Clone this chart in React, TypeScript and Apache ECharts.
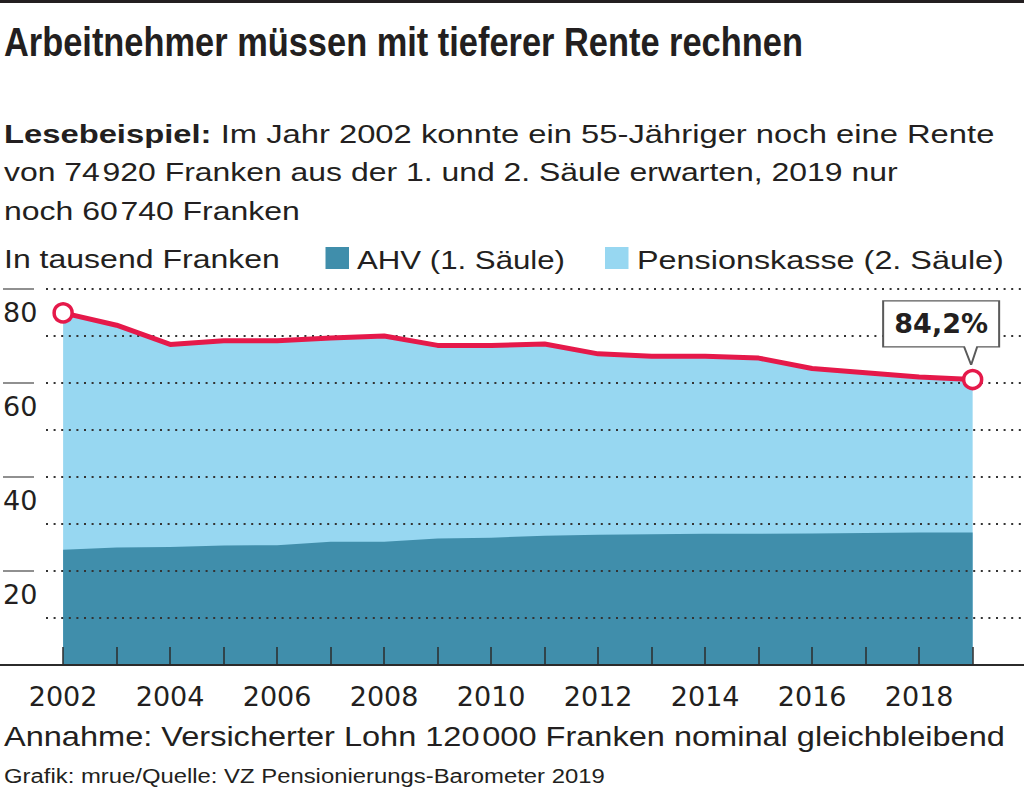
import React, { useEffect, useRef } from "react";
import * as echarts from "echarts";

// ---- data ----
const years = [2002, 2003, 2004, 2005, 2006, 2007, 2008, 2009, 2010, 2011, 2012, 2013, 2014, 2015, 2016, 2017, 2018, 2019];
const totalRente = [74.92, 72.3, 68.2, 69.0, 69.0, 69.6, 70.0, 68.0, 68.0, 68.3, 66.2, 65.7, 65.7, 65.3, 63.1, 62.2, 61.3, 60.74];
const ahvRente = [24.5, 25.0, 25.1, 25.4, 25.5, 26.2, 26.2, 26.9, 27.1, 27.5, 27.7, 27.8, 27.9, 27.9, 28.0, 28.1, 28.2, 28.2];
const labelYears = [2002, 2004, 2006, 2008, 2010, 2012, 2014, 2016, 2018];
const yLabelValues = [20, 40, 60, 80];
const endShare = "84,2%";

const titleText = "Arbeitnehmer müssen mit tieferer Rente rechnen";
const leadBold = "Lesebeispiel:";
const leadLines = [
  " Im Jahr 2002 konnte ein 55-Jähriger noch eine Rente",
  "von 74\u200A920 Franken aus der 1. und 2. Säule erwarten, 2019 nur",
  "noch 60\u200A740 Franken",
];
const unitText = "In tausend Franken";
const seriesNames = ["AHV (1. Säule)", "Pensionskasse (2. Säule)"];
const noteText = "Annahme: Versicherter Lohn 120\u200A000 Franken nominal gleichbleibend";
const sourceText = "Grafik: mrue/Quelle: VZ Pensionierungs-Barometer 2019";

// ---- styles ----
const SANS = '"Liberation Sans", Arial, Helvetica, sans-serif';
const NARROW = '"Liberation Sans Narrow", "Arial Narrow", "Liberation Sans", sans-serif';
const AXISFONT = '"DejaVu Sans", sans-serif';
const INK = "#231f20";
const DARK = "#408eab";
const LIGHT = "#97d7f1";
const RED = "#e5194a";

let measureCtx: CanvasRenderingContext2D | null = null;
function textWidth(text: string, font: string): number {
  if (!measureCtx) measureCtx = document.createElement("canvas").getContext("2d");
  if (!measureCtx) return text.length * 10;
  measureCtx.font = font;
  return measureCtx.measureText(text).width;
}

function fitText(
  text: string,
  left: number,
  right: number,
  y: number,
  size: number,
  weight: string,
  family: string,
  extra?: any
) {
  const w = textWidth(text, `${weight} ${size}px ${family}`);
  return {
    type: "text",
    x: left,
    y,
    scaleX: (right - left) / w,
    silent: true,
    style: {
      text,
      x: 0,
      y: 0,
      fontSize: size,
      fontWeight: weight,
      fontFamily: family,
      fill: INK,
      align: "left",
      verticalAlign: "middle",
      ...(extra || {}),
    },
  };
}

function leadLine1() {
  const size = 26;
  const wb = textWidth(leadBold, `bold ${size}px ${SANS}`);
  const wr = textWidth(leadLines[0], `normal ${size}px ${SANS}`);
  return {
    type: "text",
    x: 4,
    y: 133.4,
    scaleX: (995 - 4) / (wb + wr),
    silent: true,
    style: {
      text: `{b|${leadBold}}{r|${leadLines[0]}}`,
      x: 0,
      y: 0,
      fontSize: size,
      fontFamily: SANS,
      fill: INK,
      align: "left",
      verticalAlign: "middle",
      rich: {
        b: { fontWeight: "bold", fontSize: size, fontFamily: SANS, fill: INK },
        r: { fontWeight: "normal", fontSize: size, fontFamily: SANS, fill: INK },
      },
    },
  };
}

export default function App() {
  const ref = useRef<HTMLDivElement>(null);

  useEffect(() => {
    if (!ref.current) return;
    const chart = echarts.init(ref.current, undefined, { renderer: "svg" });
    const last = years.length - 1;

    const graphic: any[] = [
      { type: "rect", silent: true, shape: { x: 0, y: 0, width: 1024, height: 3 }, style: { fill: INK } },
      fitText(titleText, 4, 803, 42.5, 40, "bold", NARROW),
      leadLine1(),
      fitText(leadLines[1], 4, 898, 172.5, 26, "normal", SANS),
      fitText(leadLines[2], 4, 300, 211, 26, "normal", SANS),
      fitText(unitText, 4, 280, 259.5, 26, "normal", SANS),
      { type: "rect", silent: true, shape: { x: 325.5, y: 247, width: 23.5, height: 22 }, style: { fill: DARK } },
      fitText(seriesNames[0], 357, 565, 259.5, 26, "normal", SANS),
      { type: "rect", silent: true, shape: { x: 605, y: 247, width: 23.5, height: 22 }, style: { fill: LIGHT } },
      fitText(seriesNames[1], 637, 1004, 259.5, 26, "normal", SANS),
      fitText(noteText, 4, 1005, 736.7, 28, "normal", SANS),
      fitText(sourceText, 4, 605, 776, 21, "normal", SANS),
    ];

    const option: any = {
      animation: false,
      graphic,
      grid: [
        { left: 46, right: 0, top: 289, bottom: 130 },
        { left: 0, width: 34, top: 289, bottom: 130 },
        { left: 0, width: 47, top: 289, bottom: 130 },
      ],
      xAxis: [
        {
          type: "value",
          gridIndex: 0,
          min: 2001.68,
          max: 2019.96,
          z: 4,
          axisLine: { show: true, lineStyle: { color: "#2b2b2b", width: 2 } },
          axisTick: { show: true, inside: true, length: 18, customValues: years, lineStyle: { color: "#2b2b2b", width: 1.5 } },
          axisLabel: {
            customValues: labelYears,
            formatter: (v: number) => String(v),
            fontFamily: AXISFONT,
            fontSize: 27,
            color: INK,
            margin: 18,
          },
          splitLine: { show: false },
        },
        { type: "value", gridIndex: 1, show: false, min: 0, max: 1 },
        {
          type: "value",
          gridIndex: 2,
          min: 0,
          max: 1,
          axisLine: { show: true, lineStyle: { color: "#2b2b2b", width: 2 } },
          axisTick: { show: false },
          axisLabel: { show: false },
          splitLine: { show: false },
        },
      ],
      yAxis: [
        {
          type: "value",
          gridIndex: 0,
          min: 0,
          max: 80,
          interval: 10,
          z: 3,
          axisLine: { show: false },
          axisTick: { show: false },
          axisLabel: { show: false },
          splitLine: { show: true, lineStyle: { color: "#333333", width: 2, type: [2, 5.6] } },
        },
        {
          type: "value",
          gridIndex: 1,
          min: 0,
          max: 80,
          interval: 20,
          axisLine: { show: false },
          axisTick: { show: false },
          axisLabel: {
            inside: true,
            margin: 0,
            customValues: yLabelValues,
            formatter: (v: number) => String(v),
            fontFamily: AXISFONT,
            fontSize: 27,
            color: INK,
            verticalAlign: "top",
            lineHeight: 27,
            padding: [10, 0, 0, 0],
          },
          splitLine: { show: true, lineStyle: { color: "#6b6b6b", width: 1.5 } },
        },
        { type: "value", gridIndex: 2, show: false, min: 0, max: 80 },
      ],
      series: [
        {
          name: seriesNames[1],
          type: "line",
          xAxisIndex: 0,
          yAxisIndex: 0,
          data: years.map((y, i) => [y, totalRente[i]]),
          symbol: "none",
          lineStyle: { width: 0 },
          areaStyle: { color: LIGHT, opacity: 1 },
          z: 1,
          silent: true,
        },
        {
          name: seriesNames[0],
          type: "line",
          xAxisIndex: 0,
          yAxisIndex: 0,
          data: years.map((y, i) => [y, ahvRente[i]]),
          symbol: "none",
          lineStyle: { width: 0 },
          areaStyle: { color: DARK, opacity: 1 },
          z: 1,
          silent: true,
        },
        {
          name: "Total",
          type: "line",
          xAxisIndex: 0,
          yAxisIndex: 0,
          data: years.map((y, i) => ({
            value: [y, totalRente[i]],
            symbol: i === 0 || i === last ? "circle" : "none",
          })),
          symbolSize: 18,
          showAllSymbol: true,
          lineStyle: { color: RED, width: 5 },
          itemStyle: { color: "#ffffff", borderColor: RED, borderWidth: 3.5 },
          z: 5,
          silent: true,
          markPoint: {
            silent: true,
            symbol: "path://M0,0L116,0L116,46L94,46L88,64L81,46L0,46Z",
            symbolSize: [116, 64],
            symbolOffset: [-31.5, -46.6],
            itemStyle: { color: "#ffffff", borderColor: "#5a5a5a", borderWidth: 1.5 },
            label: {
              show: true,
              position: "inside",
              offset: [0, -9],
              formatter: endShare,
              fontFamily: AXISFONT,
              fontWeight: "bold",
              fontSize: 27,
              color: INK,
            },
            data: [{ coord: [years[last], totalRente[last]] }],
          },
        },
      ],
    };

    chart.setOption(option);
    return () => chart.dispose();
  }, []);

  return (
    <div
      ref={ref}
      style={{ position: "fixed", left: 0, top: 0, width: 1024, height: 795, background: "#ffffff" }}
    />
  );
}
